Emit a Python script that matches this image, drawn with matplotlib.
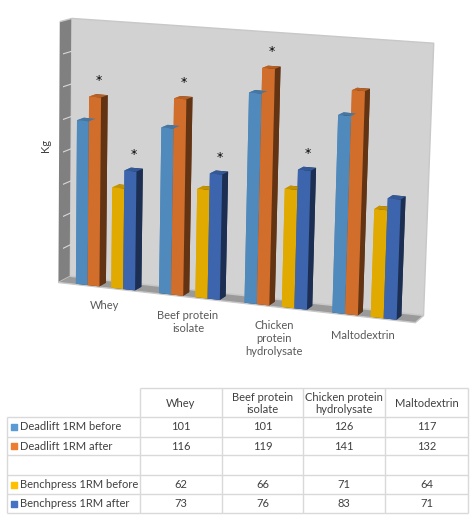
import numpy as np
import matplotlib.pyplot as plt

categories = ["Whey", "Beef protein\nisolate", "Chicken\nprotein\nhydrolysate", "Maltodextrin"]
table_cols = ["Whey", "Beef protein\nisolate", "Chicken protein\nhydrolysate", "Maltodextrin"]
series_names = ["Deadlift 1RM before", "Deadlift 1RM after", "", "Benchpress 1RM before", "Benchpress 1RM after"]
deadlift_before = [101, 101, 126, 117]
deadlift_after = [116, 119, 141, 132]
bench_before = [62, 66, 71, 64]
bench_after = [73, 76, 83, 71]
# asterisks: (category index, series slot)
signif = [(0, 1), (0, 4), (1, 1), (1, 4), (2, 1), (2, 4)]

colors = ["#5B9BD5", "#ED7D31", None, "#FFC000", "#4472C4"]
series_vals = [deadlift_before, deadlift_after, None, bench_before, bench_after]

plt.rcParams['font.family'] = ['Lato', 'DejaVu Sans']

fig = plt.figure(figsize=(4.7, 5.2), dpi=100)
ax = fig.add_axes([0.0, 0.34, 1.0, 0.66], projection='3d')

pitch = 7
xs, ys, zs, dxs, dys, dzs, cols = [], [], [], [], [], [], []
for s, vals in enumerate(series_vals):
    if vals is None:
        continue
    for i, v in enumerate(vals):
        xs.append(i * pitch + s)
        ys.append(0.15)
        zs.append(0)
        dxs.append(1)
        dys.append(0.9)
        dzs.append(v)
        cols.append(colors[s])

ax.bar3d(xs, ys, zs, dxs, dys, dzs, color=cols, shade=True, edgecolor='none')

xmin, xmax = -1.4, 3 * pitch + 5 + 1.5
ymin, ymax = 0, 1.6
ax.set_xlim(xmin, xmax)
ax.set_ylim(ymin, ymax)
ax.set_zlim(0, 160)
ax.set_box_aspect((xmax - xmin, (ymax - ymin) * 1.4, 20.5), zoom=1.33)
ax.set_proj_type('persp', focal_length=1.2)
ax.view_init(elev=11, azim=-70, roll=-1.2)

ax.set_xticks([])
ax.set_yticks([])
ax.set_zticks([])
ax.grid(False)
for axis in (ax.xaxis, ax.yaxis, ax.zaxis):
    axis.line.set_color((1, 1, 1, 0))
ax.xaxis.set_pane_color("#808080")
ax.yaxis.set_pane_color("#D2D2D2")
ax.zaxis.set_pane_color("#9A9A9A")
for axis in (ax.xaxis, ax.yaxis, ax.zaxis):
    axis.pane.set_edgecolor("#C8C8C8")

# left wall grid lines
for z in range(20, 160, 20):
    ax.plot([xmin, xmin], [ymin, ymax], [z, z], color="#D9D9D9", lw=0.8)

for i, s in signif:
    v = series_vals[s][i]
    ax.text(i * pitch + s + 0.5, 0.6, v + 9, "*", ha='center', va='center', fontsize=9,
            color='black', family='DejaVu Sans')

for i, c in enumerate(categories):
    ax.text(i * pitch + 2.5, 0.0, -8, c, ha='center', va='top', fontsize=8, color="#595959")

fig.text(45 / 470, 1 - 145 / 520, "Kg", rotation=90, ha='center', va='center', fontsize=8, color="#404040")

# data table
tab = fig.add_axes([0, 0, 1, 1])
tab.set_xlim(0, 470)
tab.set_ylim(520, 0)
tab.axis('off')
col_x = [140, 222, 303, 385, 468]
row_y = [388, 417, 437, 455, 475, 494, 513]
lc = "#D9D9D9"
tab.hlines(row_y[0], col_x[0], col_x[-1], color=lc, lw=1)
tab.hlines(row_y[1:], 7, col_x[-1], color=lc, lw=1)
tab.vlines(col_x, row_y[0], row_y[-1], color=lc, lw=1)
tab.vlines(7, row_y[1], row_y[-1], color=lc, lw=1)
for j, c in enumerate(table_cols):
    tab.text((col_x[j] + col_x[j + 1]) / 2, (row_y[0] + row_y[1]) / 2 + 1, c,
             ha='center', va='center', fontsize=8, color="#404040", linespacing=1.1)
for r, name in enumerate(series_names):
    yc = (row_y[r + 1] + row_y[r + 2]) / 2
    vals = series_vals[r]
    if vals is None:
        continue
    tab.scatter([14], [yc], marker='s', s=22, color=colors[r])
    tab.text(20, yc, name, ha='left', va='center', fontsize=8, color="#404040")
    for j, v in enumerate(vals):
        tab.text((col_x[j] + col_x[j + 1]) / 2, yc, str(v), ha='center', va='center',
                 fontsize=8, color="#404040")

fig.savefig("out.png", dpi=100)
